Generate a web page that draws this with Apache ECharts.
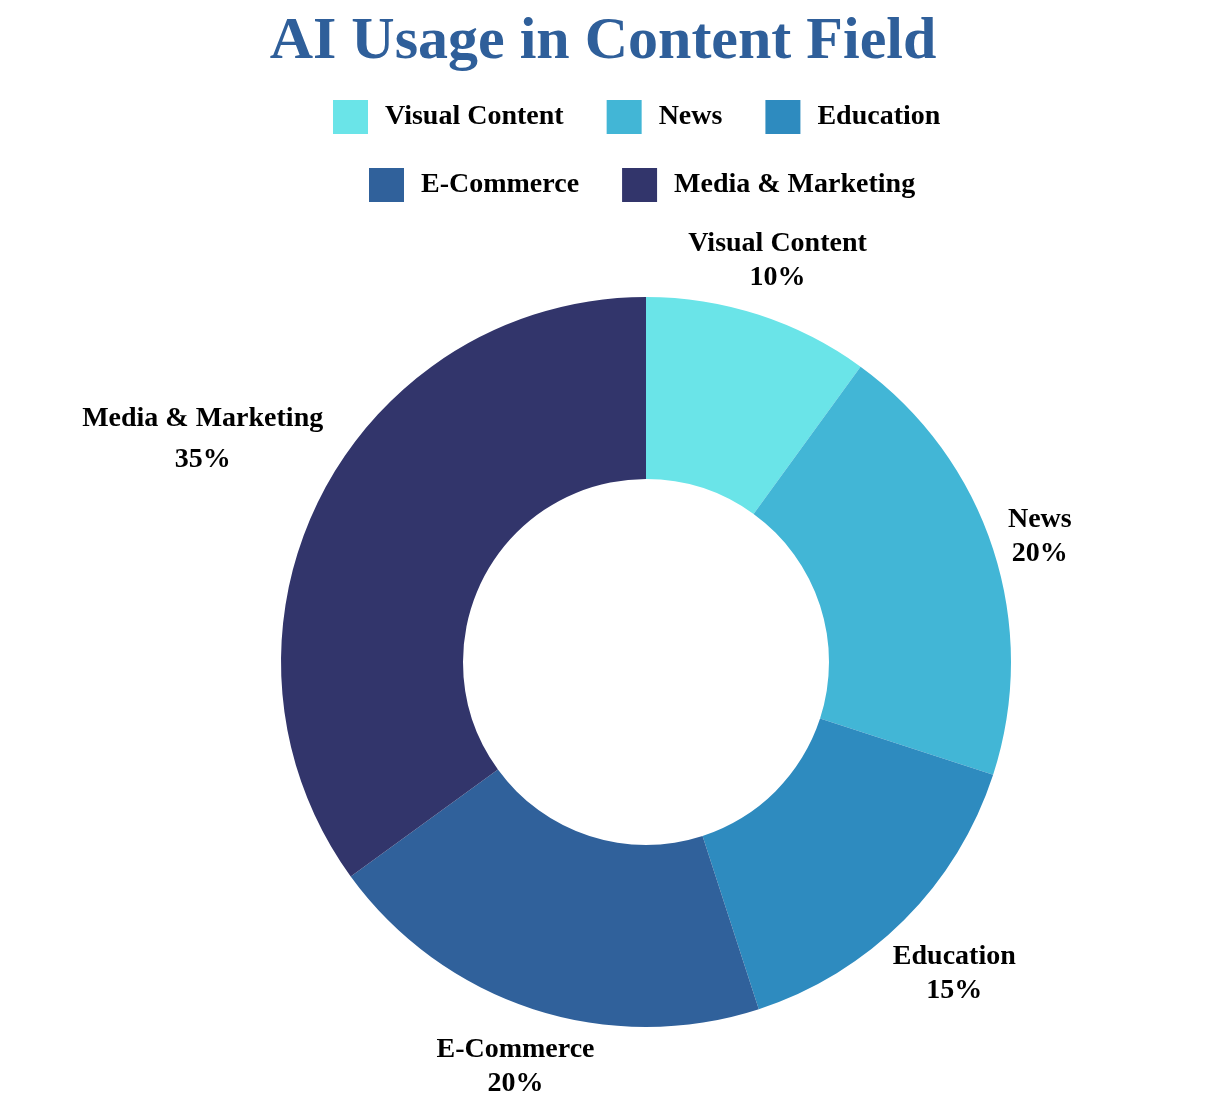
<!DOCTYPE html>
<html><head><meta charset="utf-8">
<script src="https://cdn.jsdelivr.net/npm/echarts@6/dist/echarts.min.js"></script>
<style>html,body{margin:0;padding:0;background:#fff}#c{width:1206px;height:1112px}</style>
</head><body><div id="c"></div>
<script>
const categories = ['Visual Content', 'News', 'Education', 'E-Commerce', 'Media & Marketing'];
const values = [10, 20, 15, 20, 35];
const colors = ['#6ae4e8', '#42b6d6', '#2e8bbf', '#30619b', '#32356b'];

const FONT = '"Liberation Serif", "Times New Roman", serif';
const CX = 646, CY = 662, R_OUT = 365, R_IN = 183, LABEL_OFFSET = 12;
const total = values.reduce((a, b) => a + b, 0);

function midAngle(i) {
  let cum = 0;
  for (let k = 0; k < i; k++) cum += values[k];
  return (cum + values[i] / 2) / total * 2 * Math.PI;
}

const legendBase = {
  orient: 'horizontal',
  itemWidth: 35,
  itemHeight: 34,
  itemGap: 43,
  icon: 'rect',
  textStyle: { fontFamily: FONT, fontSize: 28, fontWeight: 'bold', color: '#000', padding: [0, 0, 0, 12] }
};

const chart = echarts.init(document.getElementById('c'));
chart.setOption({
  animation: false,
  color: colors,
  title: {
    text: 'AI Usage in Content Field',
    left: 'center',
    top: 7,
    textStyle: { fontFamily: FONT, fontSize: 60, fontWeight: 'bold', color: '#2f5f9a' }
  },
  legend: [
    Object.assign({}, legendBase, { data: categories.slice(0, 3), top: 100, left: 333, padding: 0 }),
    Object.assign({}, legendBase, { data: categories.slice(3), top: 168, left: 369, padding: 0 })
  ],
  series: [{
    type: 'pie',
    center: [CX, CY],
    radius: [R_IN, R_OUT],
    startAngle: 90,
    clockwise: true,
    avoidLabelOverlap: false,
    emphasis: { scale: false },
    data: categories.map((n, i) => ({
      name: n,
      value: values[i],
      label: n === 'Media & Marketing' ? { lineHeight: 41 } : undefined
    })),
    label: {
      show: true,
      position: 'outside',
      formatter: p => p.name + '\n' + Math.round(p.percent) + '%',
      fontFamily: FONT,
      fontSize: 28,
      fontWeight: 'bold',
      color: '#000',
      lineHeight: 34,
      align: 'center'
    },
    labelLine: { show: false },
    labelLayout: function (p) {
      const a = midAngle(p.dataIndex);
      const ux = Math.sin(a), uy = -Math.cos(a);
      const w = p.labelRect.width, h = p.labelRect.height;
      const d = R_OUT + LABEL_OFFSET + Math.abs(ux) * w / 2 + Math.abs(uy) * (h / 2 - 12);
      return { x: CX + d * ux, y: CY + d * uy + 3, align: 'center', verticalAlign: 'middle' };
    }
  }]
});
</script></body></html>
